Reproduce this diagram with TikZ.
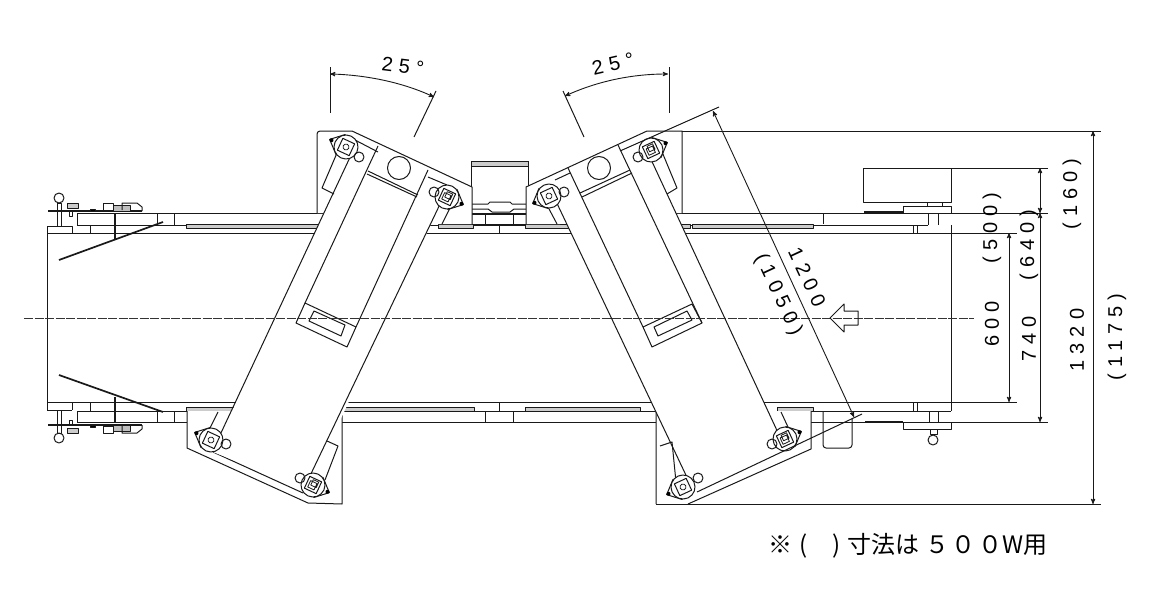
\documentclass[tikz,border=0pt]{standalone}
\usepackage{fontspec}
\newfontfamily\dimfont[LetterSpace=30]{Liberation Sans}
\newfontfamily\cjkfont{Noto Sans CJK JP}
\usetikzlibrary{arrows,positioning}
\tikzstyle{part}=[
	line width=1pt,
	draw=black!90,
	line join=round
]
\tikzstyle{thickpart}=[
	part,
	line width=1.7pt
]
\tikzstyle{strip}=[
	part,
	line width=0.8pt,
	fill=black!20
]
\tikzstyle{dimension}=[
	<->,
	>=stealth',
	line width=0.9pt,
	draw=black!90
]
\tikzstyle{extension}=[
	line width=1pt,
	draw=black!90
]
\tikzstyle{centerline}=[
	line width=0.6pt,
	draw=black!80,
	dash pattern=on 9pt off 1.5pt
]
\tikzstyle{dimlabel}=[
	font=\dimfont\fontsize{20}{20}\selectfont,
	inner sep=0pt,
	text=black
]
\newcommand{\rollerunit}[6]{%
	\begin{scope}[shift={(#1,#2)},rotate=#3]
	\draw[part,fill=white] (#4*18,0) -- (#4*6,-11) -- (#4*6,11) -- cycle;
	\fill[black] (#4*16,0) circle [radius=2pt];
	\draw[part,fill=white] (0,0) circle [radius=12pt];
	\draw[part,fill=white] (-6.5,-6.5) rectangle (6.5,6.5);
	\draw[part,line width=0.8pt] #5;
	\end{scope}
	\draw[part] #6 circle [radius=5pt];
}
\newcommand{\tensioner}{%
	\draw[thickpart,line width=1.3pt] (48,211) -- (142,211);
	\draw[part] (59,198) circle [radius=5pt];
	\draw[part] (57,203) rectangle (61,226);
	\draw[part,fill=black!20] (67,203) rectangle (78,208);
	\draw[part] (69,211) rectangle (72,216);
	\draw[part,fill=black] (90,209) rectangle (95,211);
	\draw[part] (103,203) rectangle (113,210);
	\draw[part,fill=black!25] (113,205) rectangle (130,211);
	\draw[part] (122,210) -- (122,203) -- (137,203) -- (142,207) -- (142,211);
}
\begin{document}
\begin{tikzpicture}[x=1pt,y=-1pt]
\useasboundingbox (0,0) rectangle (1150,610);

\draw[part] (47,226) rectangle (72,233);
\draw[part] (47,233) -- (47,410) (47,402) -- (72,402) (47,410) -- (72,410) (72,402) -- (72,410);
\draw[part] (77,213) -- (1048,213) (77,225) -- (928,225) (47,233) -- (1017,233);
\draw[part] (47,402) -- (1017,402) (77,411) -- (951,411) (77,422) -- (1048,422);
\draw[part] (77,213) -- (77,225) (77,411) -- (77,422);
\foreach \xrail in {157,174} {
	\draw[part] (\xrail,213) -- (\xrail,225) (\xrail,411) -- (\xrail,422);
}
\draw[part] (90,225) -- (90,233) (90,402) -- (90,411);
\draw[thickpart] (115,213) -- (115,239) (115,397) -- (115,422);
\draw[thickpart] (59,260) -- (163,222);
\draw[thickpart] (59,375) -- (163,412);
\tensioner
\begin{scope}[shift={(0,636)},yscale=-1]
\tensioner
\end{scope}

\draw[strip] (186,224) rectangle (320,228);
\draw[strip] (438,224) rectangle (473,228);
\draw[strip] (525,224) rectangle (570,228);
\draw[strip] (660,224) rectangle (690,228);
\draw[strip] (692,224) rectangle (813,228);
\draw[strip] (186,407) rectangle (235,411);
\draw[strip] (342,407) rectangle (474,411);
\draw[strip] (525,407) rectangle (640,411);
\draw[strip] (777,407) rectangle (813,411);

\draw[part] (499,225) -- (499,233) (499,402) -- (499,411);
\draw[part] (485,411) -- (485,422) (513,411) -- (513,422);

\draw[part] (471,161) rectangle (528,224);
\draw[strip] (471,161) rectangle (528,166);
\draw[part] (472,204) -- (488,204) -- (490,202) -- (510,202) -- (512,204) -- (527,204);
\draw[part] (472,209) -- (488,209) -- (492,212) -- (510,212) -- (514,209) -- (527,209);
\draw[part] (472,214) -- (527,214);
\draw[part] (485,214) -- (485,225) (513,214) -- (513,225);

\draw[part] (863,168) rectangle (951,202);
\draw[part] (927,202) rectangle (942,206);
\draw[part] (903,206) rectangle (951,213);
\draw[thickpart,line width=1.3pt] (864,212) -- (903,212);
\draw[part] (951,225) -- (951,411);
\draw[part] (823,213) -- (823,224);
\draw[part] (928,213) -- (928,225) (938,213) -- (938,225);
\draw[part] (913,225) -- (913,233) (917,225) -- (917,233);
\draw[part] (913,402) -- (913,411) (917,402) -- (917,411);
\draw[part] (929,411) -- (929,422) (938,411) -- (938,422);
\draw[part] (903,422) rectangle (951,429);
\draw[thickpart,line width=1.3pt] (865,422) -- (903,422);
\draw[part] (930,429) rectangle (937,434);
\draw[part] (933,440) circle [radius=5pt];
\draw[part,rounded corners=3pt] (823,411) -- (823,448) -- (852,448) -- (852,418);

\fill[white] (317,213) -- (317,131) -- (352,131) -- (472,187) -- (472,224) -- (430,224) -- (340,213) -- cycle;
\draw[part,rounded corners=3pt] (317,213) -- (317,131) -- (352,131);
\draw[part] (352,131) -- (472,187) -- (472,224);
\fill[white] (187,411) -- (187,448) -- (308,503) -- (342,504) -- (342,411) -- cycle;
\draw[part] (187,411) -- (187,448) -- (308,503) -- (342,504) -- (342,411);
\draw[part] (213,452) -- (303,493);

\fill[white] (526,224) -- (526,187) -- (647,131) -- (682,131) -- (682,213) -- (660,213) -- (560,224) -- cycle;
\draw[part] (526,224) -- (526,187) -- (647,131) -- (682,131) -- (682,213);
\fill[white] (656,411) -- (656,504) -- (688,504) -- (811,449) -- (811,411) -- cycle;
\draw[part] (656,411) -- (656,504) (688,504) -- (811,449) -- (811,411);

\fill[white] (352,153) -- (442,200) -- (308,490) -- (213,452) -- cycle;
\draw[part] (352,153) -- (213,450);
\draw[part] (378,146) -- (305,303);
\draw[part] (428,170) -- (356,327);
\draw[part] (442,200) -- (308,480);
\draw[part] (355,140) -- (378,152) (428,177) -- (447,185);
\draw[part] (368,171) -- (418,195) (367,174) -- (417,197);
\draw[part] (399,168) circle [radius=11.5pt];
\draw[part] (305,303) -- (356,327) -- (347,347) -- (296,323) -- cycle;
\draw[part] (314,311) -- (345,325) -- (341,336) -- (309,321) -- cycle;
\draw[part] (337,153) -- (322,188) -- (334,194);
\draw[part] (450,208) -- (442,224);
\draw[part] (218,412) -- (210,428);
\draw[part] (327,441) -- (338,446) -- (325,480);

\fill[white] (553,195) -- (648,153) -- (780,437) -- (693,490) -- cycle;
\draw[part] (553,195) -- (693,490);
\draw[part] (568,168) -- (643,327);
\draw[part] (618,145) -- (702,323);
\draw[part] (648,153) -- (780,437);
\draw[part] (555,180) -- (570,173);
\draw[part] (580,193) -- (630,170) (582,197) -- (632,173);
\draw[part] (599,168) circle [radius=11.5pt];
\draw[part] (643,327) -- (692,304) -- (702,323) -- (652,347) -- cycle;
\draw[part] (654,327) -- (687,311) -- (692,320) -- (658,336) -- cycle;
\draw[part] (660,147) -- (677,188) -- (667,194);
\draw[part] (548,207) -- (557,224);
\draw[part] (660,446) -- (672,442) -- (676,482);
\draw[part] (781,412) -- (788,427);

\rollerunit{346}{147}{-25}{-1}{(0,0) circle [radius=3pt]}{(359,157)}
\rollerunit{447}{197}{-25}{1}{(-4,-3) rectangle (3,4) (-2,-5) rectangle (4,1)}{(434,192)}
\rollerunit{211}{440}{-25}{-1}{(0,0) circle [radius=3pt]}{(226,444)}
\rollerunit{313}{485}{-25}{1}{(-4,-3) rectangle (3,4) (-2,-5) rectangle (4,1)}{(300,478)}
\rollerunit{549}{196}{25}{-1}{(0,0) circle [radius=3pt]}{(564,192)}
\rollerunit{651}{150}{25}{1}{(-4,-3) rectangle (3,4) (-2,-5) rectangle (4,1)}{(638,157)}
\rollerunit{683}{487}{25}{-1}{(0,0) circle [radius=3pt]}{(698,478)}
\rollerunit{785}{439}{25}{1}{(-4,-3) rectangle (3,4) (-2,-5) rectangle (4,1)}{(772,444)}

\draw[centerline] (24,318) -- (974,318);
\draw[part] (830,318) -- (844,304) -- (844,311) -- (858,311) -- (858,325) -- (844,325) -- (844,332) -- cycle;

\draw[extension] (682,131) -- (1101,131);
\draw[extension] (656,504) -- (1101,504);
\draw[extension] (951,168) -- (1048,168);
\draw[extension] (620,151) -- (719,107);
\draw[extension] (697,492) -- (862,414);
\draw[extension] (330,67) -- (330,113);
\draw[extension] (414,137) -- (436,91);
\draw[extension] (669,67) -- (669,113);
\draw[extension] (563,91) -- (584,137);

\coordinate (angleLeftA) at (330,74);
\coordinate (angleLeftB) at (434,97);
\coordinate (angleRightA) at (565,96);
\coordinate (angleRightB) at (668,74);
\coordinate (beltTop) at (713,111);
\coordinate (beltBottom) at (854,417);
\draw[dimension] (angleLeftA) .. controls (368,75) and (404,83) .. (angleLeftB);
\draw[dimension] (angleRightA) .. controls (598,81) and (632,74) .. (angleRightB);
\draw[dimension] (beltTop) -- (beltBottom);
\draw[dimension] (1093,131) -- (1093,504);
\draw[dimension] (1040,168) -- (1040,213);
\draw[dimension] (1040,213) -- (1040,422);
\draw[dimension] (1009,233) -- (1009,402);

\node[dimlabel,rotate=-7] (angleLeftLabel) at (403,66) {25°};
\node[dimlabel,rotate=13] (angleRightLabel) at (613,64) {25°};
\node[dimlabel,rotate=-65] (beltLabel) at (807,277) {1200};
\node[dimlabel,rotate=-65] (beltAltLabel) at (778,295) {(1050)};
\node[dimlabel,rotate=90] (widthLabel) at (992,324) {600};
\node[dimlabel,rotate=90] (widthAltLabel) at (992,228) {(500)};
\node[dimlabel,rotate=90] (frameLabel) at (1029,339) {740};
\node[dimlabel,rotate=90] (frameAltLabel) at (1029,245) {(640)};
\node[dimlabel,rotate=90] (motorLabel) at (1072,194) {(160)};
\node[dimlabel,rotate=90] (totalLabel) at (1077,340) {1320};
\node[dimlabel,rotate=90] (totalAltLabel) at (1117,337) {(1175)};
\node[anchor=west,inner sep=0pt,font=\cjkfont\fontsize{24}{24}\selectfont,text=black] (noteLabel) at (768,546) {※\hspace{7pt}(\hspace{25pt})\hspace{7pt}寸法は\hspace{6pt}５\hspace{2pt}０\hspace{3pt}０W用};
\end{tikzpicture}
\end{document}
